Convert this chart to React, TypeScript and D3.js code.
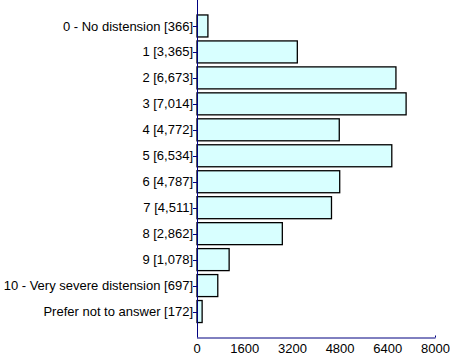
import React from "react";
import * as d3 from "d3";

const categories = [
  "0 - No distension [366]",
  "1 [3,365]",
  "2 [6,673]",
  "3 [7,014]",
  "4 [4,772]",
  "5 [6,534]",
  "6 [4,787]",
  "7 [4,511]",
  "8 [2,862]",
  "9 [1,078]",
  "10 - Very severe distension [697]",
  "Prefer not to answer [172]",
];
const values = [366, 3365, 6673, 7014, 4772, 6534, 4787, 4511, 2862, 1078, 697, 172];
const xTicks = [0, 1600, 3200, 4800, 6400, 8000];

export default function App() {
  const W = 450, H = 364;
  const x0 = 197, x1 = 435.5, yTop = 0, yBot = 337.5;
  const x = d3.scaleLinear().domain([0, 8000]).range([x0, x1]);
  const y = d3.scalePoint<string>().domain(categories).range([yTop, yBot]).padding(1);
  const bh = 22;
  const axisColor = "#000080";
  return (
    <svg width={W} height={H} style={{ position: "absolute", left: 0, top: 0 }} fontFamily="'Liberation Sans', Arial, sans-serif" fontSize={13}>
      {categories.map((c, i) => {
        const cy = y(c)!;
        return (
          <g key={c}>
            <rect x={x0} y={cy - bh / 2} width={x(values[i]) - x0} height={bh} fill="#d8ffff" stroke="#000" strokeWidth={1.3} />
            <line x1={x0 - 4} x2={x0} y1={Math.round(cy) + 0.5} y2={Math.round(cy) + 0.5} stroke={axisColor} />
            <text x={x0 - 4} y={cy} dy="0.35em" textAnchor="end" fill="#000">{c}</text>
          </g>
        );
      })}
      <line x1={x0 + 0.5} x2={x0 + 0.5} y1={yTop} y2={yBot} stroke={axisColor} />
      <line x1={x0} x2={x1} y1={yBot + 0.5} y2={yBot + 0.5} stroke={axisColor} />
      <line x1={x1} x2={x1} y1={yBot - 2} y2={yBot} stroke={axisColor} />
      {xTicks.map((t) => (
        <text key={t} x={x(t)} y={yBot + 15} textAnchor="middle" fill="#000">{t}</text>
      ))}
    </svg>
  );
}
